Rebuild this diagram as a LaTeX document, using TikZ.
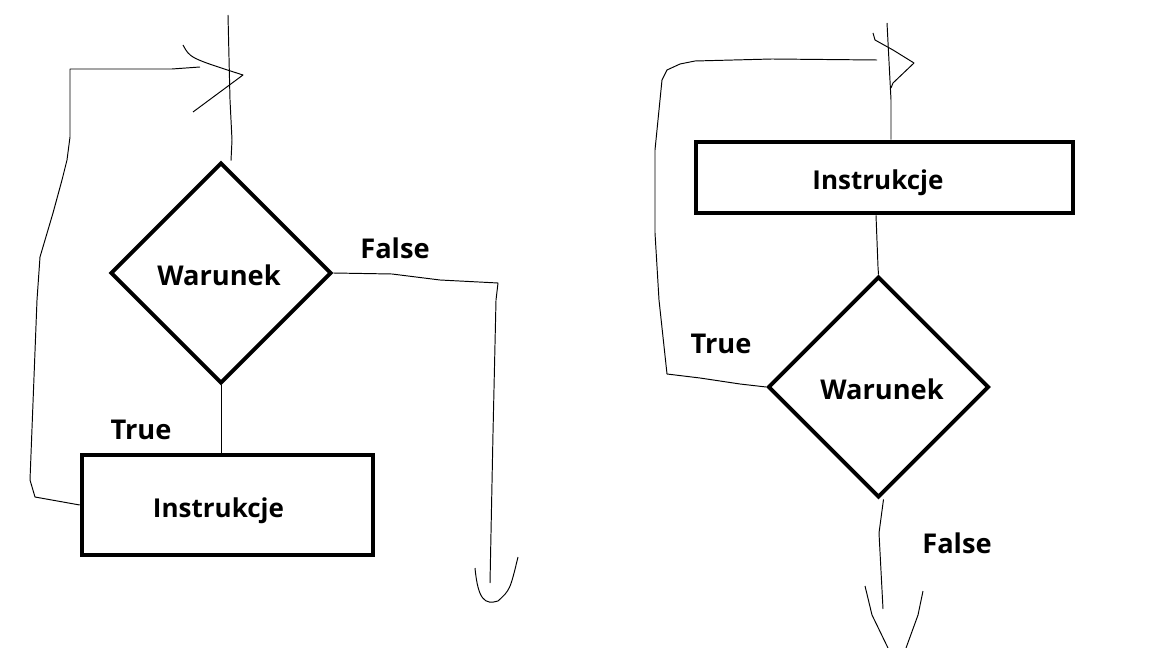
\documentclass[tikz,border=0pt]{standalone}
\usepackage{fontspec}
\setmainfont{Open Sans}
\usetikzlibrary{positioning, shapes.geometric, calc}

\begin{document}
\begin{tikzpicture}[x=0.02cm, y=-0.02cm,
    cond/.style={draw, diamond, line width=2.2pt, inner sep=0pt, minimum width=4.42cm, minimum height=4.42cm, text height=0.52cm, text depth=0cm, font=\bfseries\fontsize{15.5}{18}\selectfont},
    instr/.style={draw, rectangle, line width=2.6pt, inner sep=0pt, text height=0.5cm, text depth=0cm, font=\bfseries\fontsize{14.8}{18}\selectfont},
    lbl/.style={font=\bfseries\fontsize{15.5}{18}\selectfont},
    flow/.style={line width=0.55pt, line join=round}]
    \useasboundingbox (0,0) rectangle (1152,648);

    % petla while
    \node (warL) [cond] at (221,273) {Warunek\hspace*{0.08cm}};
    \node (insL) [instr, minimum width=5.82cm, minimum height=2cm] at (227.5,505) {Instrukcje\hspace*{0.36cm}};
    \node (falseL) [lbl] at (395,248) {False};
    \node (trueL) [lbl] at (141,430) {True};
    \coordinate (startL) at (228,15);
    \coordinate (endL) at (490,583);
    \draw [flow] (startL) -- (230,100) -- (232,140) -- ([xshift=0.2cm]warL.north);
    \draw [flow] (warL.south) -- (warL.south |- insL.north);
    \draw [flow] (insL.west) -- (35,497) -- (30,480) -- (37,300) -- (40,257) -- (53,213) -- (62,180) -- (67,160) -- (70,137) -- (70,69) -- (172,69) -- (200,67);
    \draw [flow] (183,45) .. controls (190,58) .. (243,75) -- (193,112);
    \draw [flow] (warL.east) -- (392,274) -- (440,280) -- (498,283) -- (496,300) -- (493,433) -- (endL);
    \draw [flow] (475,568) .. controls (478,600) and (485,605) .. (498,601) .. controls (510,590) .. (518,557);

    % petla do-while
    \node (insR) [instr, minimum width=7.54cm, minimum height=1.42cm] at (884.5,177.5) {Instrukcje\hspace*{0.26cm}};
    \node (warR) [cond] at (878.5,387) {\hspace*{0.14cm}Warunek};
    \node (trueR) [lbl] at (721,344) {True};
    \node (falseR) [lbl] at (957,543) {False};
    \coordinate (startR) at (887,23);
    \coordinate (endR) at (883,609);
    \draw [flow] (startR) -- (891,100) -- ([xshift=0.13cm]insR.north);
    \draw [flow] ([xshift=-0.17cm]insR.south) -- (878,267) -- (warR.north);
    \draw [flow] (warR.west) -- (740,384) -- (700,378) -- (667,374) -- (659,300) -- (655,233) -- (655,150) -- (662,80) -- (667,70) -- (680,64) -- (695,61) -- (772,59) -- (877,60);
    \draw [flow] (873,33) -- (875,40) -- (893,50) -- (914,63) -- (893,83) -- (891,88);
    \draw [flow] ([xshift=0.1cm]warR.south) -- (879,533) -- (endR);
    \draw [flow] (865,586) -- (872,615) -- (888,648);
    \draw [flow] (923,591) -- (918,615) -- (906,648);
\end{tikzpicture}
\end{document}
